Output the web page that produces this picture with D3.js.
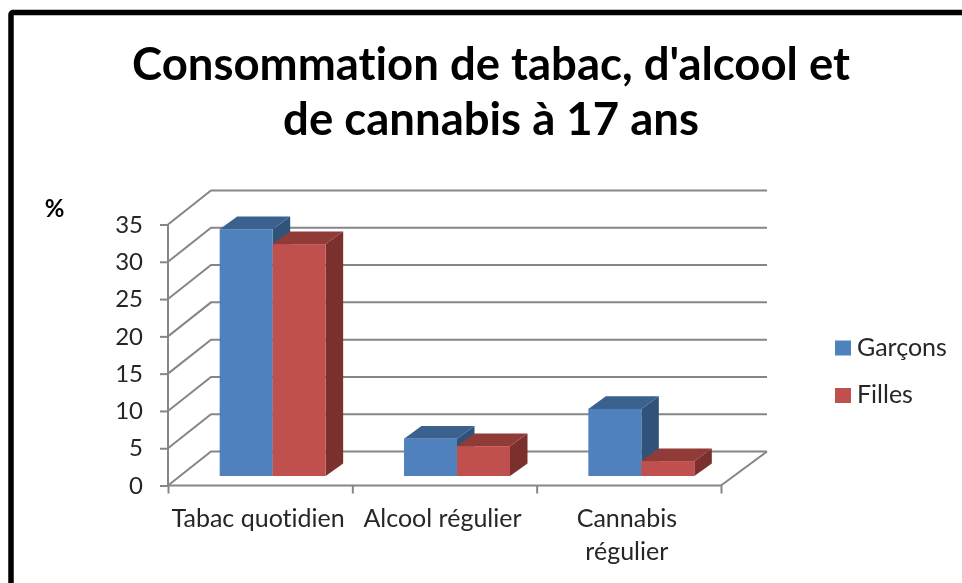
<!DOCTYPE html>
<html>
<head>
<meta charset="utf-8">
<script src="https://cdnjs.cloudflare.com/ajax/libs/d3/7.8.5/d3.min.js"></script>
<style>
  html, body { margin: 0; padding: 0; background: #fff; overflow: hidden; }
  svg { display: block; font-family: Lato, "Open Sans", sans-serif; font-variant-ligatures: none; filter: blur(0.4px); }
  .axis path { display: none; }
  .axis line { stroke: #868686; stroke-width: 2; }
  .axis text { fill: #262626; font-family: Lato, "Open Sans", sans-serif; font-size: 24px; }
</style>
</head>
<body>
<svg width="962" height="583"></svg>
<script>
const width = 962;
const height = 583;

const titleLines = ["Consommation de tabac, d'alcool et", "de cannabis à 17 ans"];
const categories = ["Tabac quotidien", "Alcool régulier", "Cannabis régulier"];
const seriesNames = ["Garçons", "Filles"];
const garcons = [33.1, 5, 9];
const filles = [31.1, 4, 2];
const yTicks = [0, 5, 10, 15, 20, 25, 30, 35];

const colors = { "Garçons": "#4F81BD", "Filles": "#C0504D" };
const topColors = { "Garçons": "#3B618F", "Filles": "#913B39" };
const sideColors = { "Garçons": "#315379", "Filles": "#7B302E" };

// depth of the 3D box and of a bar
const wallDx = 43, wallDy = 34;
const barDx = 17.5, barDy = 12.6;
const planeDx = 12.5, planeDy = 9.5;

const svg = d3.select("svg");

// frame, runs off the right and bottom edges
svg.append("rect")
  .attr("x", 11).attr("y", 12.5)
  .attr("width", width + 20).attr("height", height + 20)
  .attr("rx", 2)
  .attr("fill", "#fff")
  .attr("stroke", "#000")
  .attr("stroke-width", 5.5);

svg.append("g").selectAll("text")
  .data(titleLines)
  .join("text")
  .attr("x", 491)
  .attr("y", (d, i) => 80 + i * 55)
  .attr("text-anchor", "middle")
  .attr("font-size", 45.5)
  .attr("font-weight", 700)
  .attr("fill", "#000")
  .text(d => d);

svg.append("text")
  .attr("x", 54.5).attr("y", 217)
  .attr("text-anchor", "middle")
  .attr("font-size", 24)
  .attr("font-weight", 700)
  .text("%");

const y = d3.scaleLinear().domain([0, 35]).range([485.5, 224.5]);
const xCat = d3.scaleBand().domain(categories).range([168, 721]);
const xIdx = d3.scaleLinear().domain([0, 3]).range([168, 721]);
const xBar = d3.scaleBand().domain(seriesNames).range([-53, 53]);

// walls and floor
const grid = svg.append("g")
  .attr("fill", "none")
  .attr("stroke", "#868686")
  .attr("stroke-width", 2);

grid.selectAll("path")
  .data(yTicks)
  .join("path")
  .attr("d", d => {
    const p = d3.path();
    p.moveTo(168, y(d));
    p.lineTo(168 + wallDx, y(d) - wallDy);
    p.lineTo(721 + wallDx + 3, y(d) - wallDy);
    return p.toString();
  });

grid.append("path")
  .attr("d", () => {
    const p = d3.path();
    p.moveTo(721, y(0));
    p.lineTo(721 + wallDx + 3, y(0) - wallDy);
    return p.toString();
  });

// axes
const yAxisGroup = svg.append("g")
  .attr("class", "axis")
  .attr("transform", "translate(168,0)")
  .call(d3.axisLeft(y).tickValues(yTicks).tickSize(8).tickPadding(17));

yAxisGroup.append("line")
  .attr("y1", y(35)).attr("y2", y(0));

const xAxisGroup = svg.append("g")
  .attr("class", "axis")
  .attr("transform", `translate(0,${y(0)})`)
  .call(d3.axisBottom(xIdx).ticks(3).tickSize(8).tickFormat(""));

xAxisGroup.append("line")
  .attr("x1", 168).attr("x2", 721);

// category labels, last one wraps on two lines
const labelLines = [["Tabac quotidien"], ["Alcool régulier"], ["Cannabis", "régulier"]];
categories.forEach((c, i) => {
  svg.append("g").selectAll("text")
    .data(labelLines[i])
    .join("text")
    .attr("x", xCat(c) + xCat.bandwidth() / 2 - 2)
    .attr("y", (d, j) => 527 + j * 33)
    .attr("text-anchor", "middle")
    .attr("font-size", 25)
    .attr("fill", "#262626")
    .text(d => d);
});

// bars, drawn back to front for each category
const values = { "Garçons": garcons, "Filles": filles };
const barBase = y(0) - planeDy;

categories.forEach((c, i) => {
  const cx = xCat(c) + xCat.bandwidth() / 2 + planeDx;
  seriesNames.forEach(s => {
    const x0 = cx + xBar(s);
    const x1 = x0 + xBar.bandwidth();
    const top = y(values[s][i]) - planeDy;
    const g = svg.append("g");
    // side
    g.append("path")
      .attr("fill", sideColors[s])
      .attr("d", `M${x1},${top}L${x1 + barDx},${top - barDy}L${x1 + barDx},${barBase - barDy}L${x1},${barBase}Z`);
    // top
    g.append("path")
      .attr("fill", topColors[s])
      .attr("d", `M${x0},${top}L${x0 + barDx},${top - barDy}L${x1 + barDx},${top - barDy}L${x1},${top}Z`);
    // front
    g.append("rect")
      .attr("x", x0)
      .attr("y", top)
      .attr("width", x1 - x0)
      .attr("height", barBase - top)
      .attr("fill", colors[s]);
  });
});

// legend
const legend = svg.append("g")
  .selectAll("g")
  .data(seriesNames)
  .join("g")
  .attr("transform", (d, i) => `translate(835,${340.5 + i * 47.5})`);

legend.append("rect")
  .attr("width", 16)
  .attr("height", 15)
  .attr("fill", d => colors[d]);

legend.append("text")
  .attr("x", 22)
  .attr("y", 15)
  .attr("font-size", 25)
  .attr("fill", "#262626")
  .text(d => d);
</script>
</body>
</html>
